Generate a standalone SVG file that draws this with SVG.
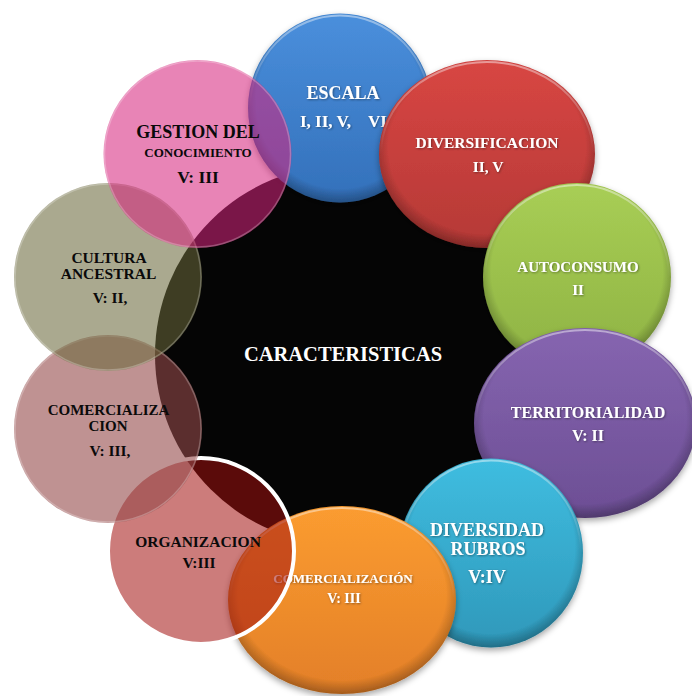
<svg xmlns="http://www.w3.org/2000/svg" width="692" height="696" viewBox="0 0 692 696">
<defs>
<style>
text{font-family:"Liberation Serif","Times New Roman",serif;font-weight:bold;text-anchor:middle}
.w{fill:#ffffff}
.k{fill:#0a0a0a}
.sh{filter:url(#ds)}
.ts{filter:url(#tsh)}
</style>
<filter id="ds" x="-20%" y="-20%" width="140%" height="140%">
<feDropShadow dx="0" dy="3" stdDeviation="3" flood-color="#000" flood-opacity="0.35"/>
</filter>
<filter id="tsh" x="-10%" y="-30%" width="120%" height="160%">
<feDropShadow dx="0.8" dy="0.8" stdDeviation="0.8" flood-color="#000" flood-opacity="0.45"/>
</filter>
<radialGradient id="bev" cx="0.5" cy="0.47" r="0.53">
<stop offset="0.86" stop-color="#000" stop-opacity="0"/>
<stop offset="1" stop-color="#000" stop-opacity="0.28"/>
</radialGradient>
<linearGradient id="hl" x1="0" y1="0" x2="0" y2="1">
<stop offset="0" stop-color="#fff" stop-opacity="0.45"/>
<stop offset="0.5" stop-color="#fff" stop-opacity="0"/>
</linearGradient>
<linearGradient id="gBlue" x1="0" y1="0" x2="0" y2="1"><stop offset="0" stop-color="#4a8fdc"/><stop offset="1" stop-color="#3370ba"/></linearGradient>
<linearGradient id="gRed" x1="0" y1="0" x2="0" y2="1"><stop offset="0" stop-color="#d84643"/><stop offset="1" stop-color="#b53936"/></linearGradient>
<linearGradient id="gGreen" x1="0" y1="0" x2="0" y2="1"><stop offset="0" stop-color="#a8ce55"/><stop offset="1" stop-color="#8eb243"/></linearGradient>
<linearGradient id="gPurple" x1="0" y1="0" x2="0" y2="1"><stop offset="0" stop-color="#8665b0"/><stop offset="1" stop-color="#6c4e94"/></linearGradient>
<linearGradient id="gCyan" x1="0" y1="0" x2="0" y2="1"><stop offset="0" stop-color="#3fbde0"/><stop offset="1" stop-color="#2f98ba"/></linearGradient>
<linearGradient id="gOrange" x1="0" y1="0" x2="0" y2="1"><stop offset="0" stop-color="#fb9c30"/><stop offset="1" stop-color="#e37f28"/></linearGradient>
</defs>
<rect width="692" height="696" fill="#ffffff"/>

<g id="connectors"></g>

<g id="node-center">
<circle cx="345" cy="355" r="190" fill="#050505"/>
<text class="w" x="343" y="361" font-size="20.5">CARACTERISTICAS</text>
</g>

<g id="node-escala" class="sh">
<ellipse cx="340" cy="108" rx="92" ry="94.5" fill="url(#gBlue)"/>
<ellipse cx="340" cy="108" rx="92" ry="94.5" fill="url(#bev)"/>
<ellipse cx="340" cy="108" rx="90" ry="92.5" fill="none" stroke="url(#hl)" stroke-width="2"/>
<text class="w ts" x="343" y="99" font-size="18">ESCALA</text>
<text class="w ts" y="127" font-size="17" style="text-anchor:start" xml:space="preserve"><tspan x="300">I, II, V,</tspan><tspan x="368">VI</tspan></text>
</g>

<g id="node-diversificacion" class="sh">
<ellipse cx="487" cy="154" rx="108" ry="94" fill="url(#gRed)"/>
<ellipse cx="487" cy="154" rx="108" ry="94" fill="url(#bev)"/>
<ellipse cx="487" cy="154" rx="106" ry="92" fill="none" stroke="url(#hl)" stroke-width="2"/>
<text class="w ts" x="487" y="148" font-size="15.5">DIVERSIFICACION</text>
<text class="w ts" x="488" y="172" font-size="15.5">II, V</text>
</g>

<g id="node-autoconsumo" class="sh">
<ellipse cx="577" cy="277" rx="94" ry="94" fill="url(#gGreen)"/>
<ellipse cx="577" cy="277" rx="94" ry="94" fill="url(#bev)"/>
<ellipse cx="577" cy="277" rx="92" ry="92" fill="none" stroke="url(#hl)" stroke-width="2"/>
<text class="w ts" x="578" y="272" font-size="15">AUTOCONSUMO</text>
<text class="w ts" x="578" y="295" font-size="15">II</text>
</g>

<g id="node-territorialidad" class="sh">
<ellipse cx="585" cy="423" rx="111" ry="95" fill="url(#gPurple)"/>
<ellipse cx="585" cy="423" rx="111" ry="95" fill="url(#bev)"/>
<ellipse cx="585" cy="423" rx="109" ry="93" fill="none" stroke="url(#hl)" stroke-width="2"/>
<text class="w ts" x="588" y="418" font-size="16">TERRITORIALIDAD</text>
<text class="w ts" x="588" y="441" font-size="16">V: II</text>
</g>

<g id="node-diversidad" class="sh">
<ellipse cx="491" cy="553" rx="92" ry="94.5" fill="url(#gCyan)"/>
<ellipse cx="491" cy="553" rx="92" ry="94.5" fill="url(#bev)"/>
<ellipse cx="491" cy="553" rx="90" ry="92.5" fill="none" stroke="url(#hl)" stroke-width="2"/>
<text class="w ts" x="487" y="536" font-size="18">DIVERSIDAD</text>
<text class="w ts" x="488" y="555" font-size="18">RUBROS</text>
<text class="w ts" x="487" y="583" font-size="18">V:IV</text>
</g>

<g id="node-comercializacion-1" class="sh">
<ellipse cx="342" cy="600" rx="114" ry="94" fill="url(#gOrange)"/>
<ellipse cx="342" cy="600" rx="114" ry="94" fill="url(#bev)"/>
<ellipse cx="342" cy="600" rx="112" ry="92" fill="none" stroke="url(#hl)" stroke-width="2"/>
<text class="w ts" x="343" y="583" font-size="13">COMERCIALIZACIÓN</text>
<text class="w ts" x="344" y="603" font-size="14">V: III</text>
</g>

<g id="node-organizacion">
<circle cx="201" cy="551" r="93" fill="#a3100e" fill-opacity="0.55" stroke="#ffffff" stroke-width="4"/>
<text class="k" x="198" y="547" font-size="15.5">ORGANIZACION</text>
<text class="k" x="199" y="568" font-size="15.5">V:III</text>
</g>

<g id="node-comercializacion-2">
<circle cx="108" cy="429" r="94" fill="#944a4a" fill-opacity="0.6"/>
<circle cx="108" cy="429" r="93" fill="none" stroke="#ffffff" stroke-opacity="0.25" stroke-width="1.5"/>
<text class="k" x="108.5" y="415" font-size="15">COMERCIALIZA</text>
<text class="k" x="108" y="431" font-size="15">CION</text>
<text class="k" x="110" y="456" font-size="15.5">V: III,</text>
</g>

<g id="node-cultura">
<circle cx="108" cy="277" r="94" fill="#69673a" fill-opacity="0.57"/>
<circle cx="108" cy="277" r="93" fill="none" stroke="#ffffff" stroke-opacity="0.25" stroke-width="1.5"/>
<text class="k" x="109" y="263" font-size="15.5">CULTURA</text>
<text class="k" x="108.5" y="279" font-size="15.5">ANCESTRAL</text>
<text class="k" x="110" y="303" font-size="15.5">V: II,</text>
</g>

<g id="node-gestion">
<circle cx="197.5" cy="154" r="94" fill="#d6247d" fill-opacity="0.56"/>
<circle cx="197.5" cy="154" r="93" fill="none" stroke="#ffffff" stroke-opacity="0.25" stroke-width="1.5"/>
<text class="k" x="198" y="138" font-size="18">GESTION DEL</text>
<text class="k" x="198" y="157" font-size="13">CONOCIMIENTO</text>
<text class="k" x="198" y="183" font-size="17.5">V: III</text>
</g>
</svg>
